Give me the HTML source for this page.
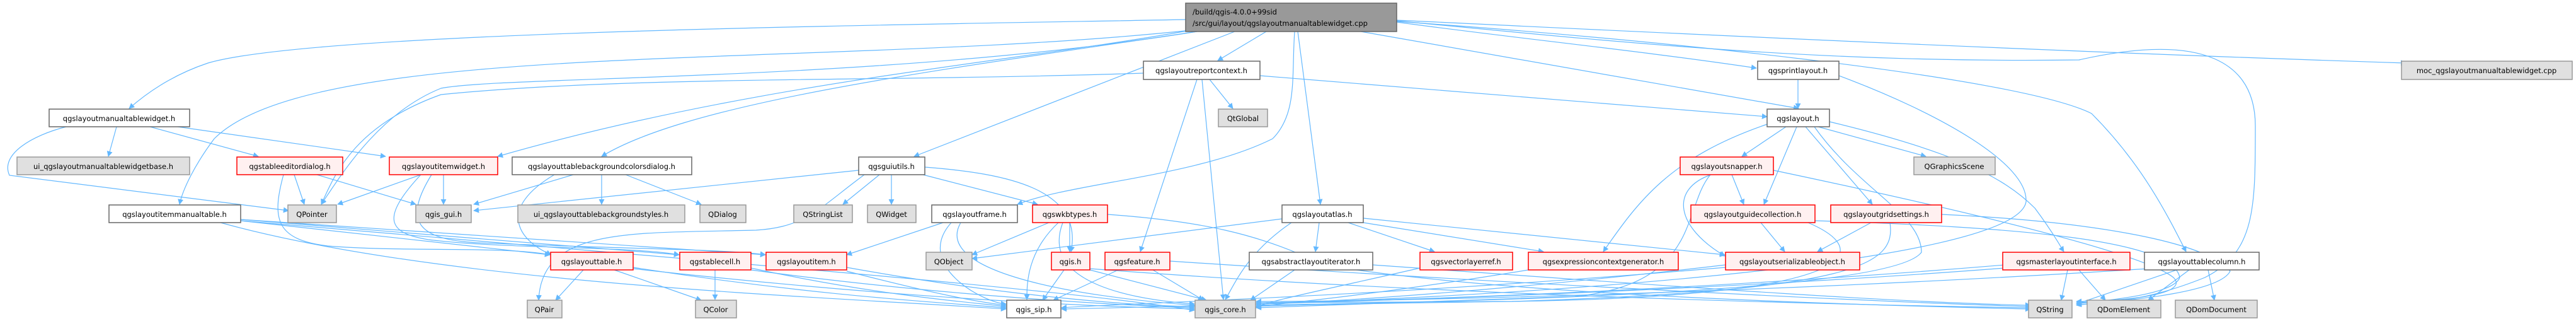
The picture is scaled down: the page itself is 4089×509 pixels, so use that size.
<!DOCTYPE html>
<html><head><meta charset="utf-8"><style>
html,body{margin:0;padding:0;background:#fff}
svg{display:block}
text{font-family:"DejaVu Sans","Liberation Sans",sans-serif;font-size:11.5px;fill:#000}
.w{fill:#fff;stroke:#666;stroke-width:1.5}
.g{fill:#e0e0e0;stroke:#999;stroke-width:1.5}
.r{fill:#fff0f0;stroke:#f00;stroke-width:1.5}
.m{fill:#999;stroke:#666;stroke-width:1.5}
.e{fill:none;stroke:#63b8ff;stroke-width:1.2}
</style></head><body>
<svg width="4089" height="509" viewBox="0 0 4089 509" xmlns="http://www.w3.org/2000/svg">
<defs><marker id="a" viewBox="0 0 10 10" refX="9" refY="5" markerWidth="9" markerHeight="9" orient="auto" markerUnits="userSpaceOnUse"><path d="M0,0 L10,5 L0,10 z" fill="#63b8ff"/></marker></defs>
<g marker-end="url(#a)">
<path class="e" d="M1882,31 C1400,40 500,50 330,100 C270,120 230,150 205,172"/>
<path class="e" d="M1890,48 C1600,100 1200,130 790,248"/>
<path class="e" d="M1900,50 C1500,110 1100,160 955,248"/>
<path class="e" d="M1890,48 C1300,110 500,60 340,220 C310,260 290,300 285,324"/>
<path class="e" d="M1900,50 C1400,130 800,120 700,140 C600,180 540,280 510,324"/>
<path class="e" d="M1960,50 L1451,248"/>
<path class="e" d="M2055,50 C2050,120 2060,180 2020,220 C1900,280 1700,290 1615,324"/>
<path class="e" d="M2010,50 L1933,96"/>
<path class="e" d="M2060,50 L2096,324"/>
<path class="e" d="M2160,50 L2855,172"/>
<path class="e" d="M2217,35 C2400,60 2600,80 2788,108"/>
<path class="e" d="M2217,32 C2600,50 3200,80 3819,100"/>
<path class="e" d="M2217,34 C2600,60 3200,120 3320,180 C3400,260 3440,340 3470,399"/>
<path class="e" d="M2217,33 C2600,70 2900,100 3300,95 C3500,50 3580,100 3580,200 C3580,330 3580,400 3500,440 C3400,480 3350,478 3296,480"/>
<path class="e" d="M185,201 L172,248"/>
<path class="e" d="M238,201 L410,248"/>
<path class="e" d="M282,201 L612,248"/>
<path class="e" d="M105,201 C50,215 0,245 15,278 L458,334"/>
<path class="e" d="M467,277 L483,324"/>
<path class="e" d="M503,277 L660,324"/>
<path class="e" d="M450,277 C430,350 440,380 520,390 C640,400 800,390 873,404"/>
<path class="e" d="M668,277 L536,324"/>
<path class="e" d="M704,277 L704,324"/>
<path class="e" d="M668,277 C600,350 620,370 680,380 C800,395 1000,390 1078,404"/>
<path class="e" d="M685,277 C640,350 660,380 760,385 C1000,395 1150,395 1215,404"/>
<path class="e" d="M910,277 L752,324"/>
<path class="e" d="M955,277 L955,324"/>
<path class="e" d="M993,277 L1113,324"/>
<path class="e" d="M880,277 C790,330 820,380 875,404"/>
<path class="e" d="M1363,270 L752,334"/>
<path class="e" d="M1396,277 L1338,324"/>
<path class="e" d="M1415,277 L1415,324"/>
<path class="e" d="M1465,277 L1647,324"/>
<path class="e" d="M1468,265 C1600,275 1720,300 1700,399"/>
<path class="e" d="M1372,277 C1300,330 1280,360 1200,365 C1000,370 860,360 855,476"/>
<path class="e" d="M382,350 L873,404"/>
<path class="e" d="M382,348 L1078,404"/>
<path class="e" d="M382,348 L1215,404"/>
<path class="e" d="M350,353 C700,450 1300,470 1597,490"/>
<path class="e" d="M382,350 C1200,420 1700,460 1896,492"/>
<path class="e" d="M926,428 L882,476"/>
<path class="e" d="M975,428 L1113,476"/>
<path class="e" d="M1005,424 C1300,470 1500,480 1597,488"/>
<path class="e" d="M1005,426 C1400,470 1700,485 1896,490"/>
<path class="e" d="M1135,428 L1135,475"/>
<path class="e" d="M1192,425 C1400,470 1550,480 1597,486"/>
<path class="e" d="M1192,428 C1500,470 1800,485 1896,488"/>
<path class="e" d="M1344,424 C1600,470 1800,485 1896,486"/>
<path class="e" d="M1344,430 C1500,470 1560,480 1597,484"/>
<path class="e" d="M1497,353 L1344,404"/>
<path class="e" d="M1510,353 C1450,420 1560,480 1597,482"/>
<path class="e" d="M1525,353 C1480,430 1700,470 1896,484"/>
<path class="e" d="M1665,353 L1543,404"/>
<path class="e" d="M1698,353 L1698,399"/>
<path class="e" d="M1680,353 C1630,400 1630,450 1630,475"/>
<path class="e" d="M1687,353 C1650,450 1800,475 1896,482"/>
<path class="e" d="M1758,340 C1900,350 2000,370 2100,420 C2400,470 3000,485 3223,490"/>
<path class="e" d="M1689,428 L1655,476"/>
<path class="e" d="M1730,428 L1915,476"/>
<path class="e" d="M1730,426 C2300,470 3000,485 3223,488"/>
<path class="e" d="M1775,428 L1672,476"/>
<path class="e" d="M1830,428 L1910,476"/>
<path class="e" d="M1857,414 C2400,450 3000,480 3223,486"/>
<path class="e" d="M1920,126 L1957,172"/>
<path class="e" d="M1900,126 L1810,399"/>
<path class="e" d="M1908,126 L1942,475"/>
<path class="e" d="M2000,120 L2805,185"/>
<path class="e" d="M1815,116 C1400,130 1000,120 700,150 C560,200 530,280 510,324"/>
<path class="e" d="M2035,347 L1543,410"/>
<path class="e" d="M2050,353 C1980,400 1960,450 1945,475"/>
<path class="e" d="M2094,353 L2088,399"/>
<path class="e" d="M2140,353 L2277,399"/>
<path class="e" d="M2164,353 L2450,399"/>
<path class="e" d="M2164,346 L2738,404"/>
<path class="e" d="M2055,428 L1985,476"/>
<path class="e" d="M2179,420 C2600,450 3000,480 3223,484"/>
<path class="e" d="M2254,425 C2100,460 2000,480 1994,488"/>
<path class="e" d="M2426,428 C2200,465 2050,480 1994,486"/>
<path class="e" d="M2854,126 L2854,172"/>
<path class="e" d="M2919,120 C3080,180 3220,260 3216,320 C3200,420 2400,470 1994,482"/>
<path class="e" d="M2835,201 L2765,248"/>
<path class="e" d="M2852,201 L2800,324"/>
<path class="e" d="M2866,201 L2972,324"/>
<path class="e" d="M2886,201 L3057,248"/>
<path class="e" d="M2904,193 C3100,240 3180,280 3230,330 C3260,370 3270,390 3276,399"/>
<path class="e" d="M2805,197 C2650,250 2600,320 2545,399"/>
<path class="e" d="M2880,201 C2950,300 3050,340 3050,400 C3000,470 2200,480 1994,484"/>
<path class="e" d="M2749,277 L2768,324"/>
<path class="e" d="M2716,277 C2650,300 2660,360 2738,406"/>
<path class="e" d="M2815,270 C3100,330 3400,400 3450,440 C3480,470 3350,478 3296,478"/>
<path class="e" d="M2715,277 C2670,330 2700,450 2500,470 C2200,480 2050,485 1994,488"/>
<path class="e" d="M2795,353 L2833,399"/>
<path class="e" d="M2870,353 C2980,400 2950,470 2400,478 C2100,482 2000,485 1994,486"/>
<path class="e" d="M2881,350 C3200,360 3450,380 3460,440 C3450,470 3320,478 3296,482"/>
<path class="e" d="M2970,353 L2885,399"/>
<path class="e" d="M3000,353 C3010,420 2950,460 2400,478 L1994,480"/>
<path class="e" d="M3082,340 C3300,350 3500,380 3540,430 C3520,470 3320,480 3296,484"/>
<path class="e" d="M2739,420 C2400,460 2100,480 1994,482"/>
<path class="e" d="M2739,424 C2200,470 1800,480 1685,488"/>
<path class="e" d="M3282,428 L3272,476"/>
<path class="e" d="M3300,428 L3342,476"/>
<path class="e" d="M3183,420 C2700,460 2200,478 1994,480"/>
<path class="e" d="M3183,425 C2600,470 1900,485 1685,490"/>
<path class="e" d="M3455,428 L3296,482"/>
<path class="e" d="M3475,428 L3410,476"/>
<path class="e" d="M3505,428 L3515,476"/>
<path class="e" d="M3410,426 C2800,465 2200,478 1994,478"/>
</g>

<rect class="m" x="1882" y="5" width="335" height="45"/>
<text x="1893" y="23">/build/qgis-4.0.0+99sid</text>
<text x="1893" y="41">/src/gui/layout/qgslayoutmanualtablewidget.cpp</text>

<g text-anchor="middle">
<rect class="w" x="1815" y="97" width="185" height="29"/><text x="1907" y="116">qgslayoutreportcontext.h</text>
<rect class="w" x="2790" y="97" width="129" height="29"/><text x="2854" y="116">qgsprintlayout.h</text>
<rect class="g" x="3812" y="97" width="271" height="29"/><text x="3947" y="116">moc_qgslayoutmanualtablewidget.cpp</text>

<rect class="w" x="78" y="173" width="223" height="28"/><text x="189" y="192">qgslayoutmanualtablewidget.h</text>
<rect class="g" x="1934" y="173" width="78" height="28"/><text x="1973" y="192">QtGlobal</text>
<rect class="w" x="2805" y="173" width="99" height="28"/><text x="2854" y="192">qgslayout.h</text>

<rect class="g" x="27" y="249" width="274" height="28"/><text x="164" y="268">ui_qgslayoutmanualtablewidgetbase.h</text>
<rect class="r" x="376" y="249" width="168" height="28"/><text x="460" y="268">qgstableeditordialog.h</text>
<rect class="r" x="618" y="249" width="172" height="28"/><text x="704" y="268">qgslayoutitemwidget.h</text>
<rect class="w" x="813" y="249" width="285" height="28"/><text x="955" y="268">qgslayouttablebackgroundcolorsdialog.h</text>
<rect class="w" x="1363" y="249" width="105" height="28"/><text x="1415" y="268">qgsguiutils.h</text>
<rect class="r" x="2667" y="249" width="148" height="28"/><text x="2741" y="268">qgslayoutsnapper.h</text>
<rect class="g" x="3038" y="249" width="129" height="28"/><text x="3102" y="268">QGraphicsScene</text>

<rect class="w" x="173" y="325" width="209" height="28"/><text x="277" y="344">qgslayoutitemmanualtable.h</text>
<rect class="g" x="457" y="325" width="77" height="28"/><text x="495" y="344">QPointer</text>
<rect class="g" x="660" y="325" width="88" height="28"/><text x="704" y="344">qgis_gui.h</text>
<rect class="g" x="822" y="325" width="265" height="28"/><text x="954" y="344">ui_qgslayouttablebackgroundstyles.h</text>
<rect class="g" x="1111" y="325" width="73" height="28"/><text x="1147" y="344">QDialog</text>
<rect class="g" x="1260" y="325" width="93" height="28"/><text x="1306" y="344">QStringList</text>
<rect class="g" x="1377" y="325" width="77" height="28"/><text x="1415" y="344">QWidget</text>
<rect class="w" x="1479" y="325" width="136" height="28"/><text x="1547" y="344">qgslayoutframe.h</text>
<rect class="r" x="1639" y="325" width="119" height="28"/><text x="1698" y="344">qgswkbtypes.h</text>
<rect class="w" x="2035" y="325" width="129" height="28"/><text x="2099" y="344">qgslayoutatlas.h</text>
<rect class="r" x="2684" y="325" width="197" height="28"/><text x="2782" y="344">qgslayoutguidecollection.h</text>
<rect class="r" x="2906" y="325" width="176" height="28"/><text x="2994" y="344">qgslayoutgridsettings.h</text>

<rect class="r" x="874" y="400" width="131" height="28"/><text x="939" y="419">qgslayouttable.h</text>
<rect class="r" x="1079" y="400" width="113" height="28"/><text x="1135" y="419">qgstablecell.h</text>
<rect class="r" x="1216" y="400" width="128" height="28"/><text x="1280" y="419">qgslayoutitem.h</text>
<rect class="g" x="1470" y="400" width="73" height="28"/><text x="1506" y="419">QObject</text>
<rect class="r" x="1669" y="400" width="61" height="28"/><text x="1699" y="419">qgis.h</text>
<rect class="r" x="1754" y="400" width="103" height="28"/><text x="1805" y="419">qgsfeature.h</text>
<rect class="w" x="1983" y="400" width="196" height="28"/><text x="2081" y="419">qgsabstractlayoutiterator.h</text>
<rect class="r" x="2254" y="400" width="147" height="28"/><text x="2327" y="419">qgsvectorlayerref.h</text>
<rect class="r" x="2426" y="400" width="238" height="28"/><text x="2545" y="419">qgsexpressioncontextgenerator.h</text>
<rect class="r" x="2739" y="400" width="213" height="28"/><text x="2845" y="419">qgslayoutserializableobject.h</text>
<rect class="r" x="3179" y="400" width="202" height="28"/><text x="3280" y="419">qgsmasterlayoutinterface.h</text>
<rect class="w" x="3404" y="400" width="182" height="28"/><text x="3495" y="419">qgslayouttablecolumn.h</text>

<rect class="g" x="837" y="476" width="55" height="28"/><text x="864" y="495">QPair</text>
<rect class="g" x="1104" y="476" width="65" height="28"/><text x="1136" y="495">QColor</text>
<rect class="w" x="1598" y="476" width="86" height="28"/><text x="1641" y="495">qgis_sip.h</text>
<rect class="g" x="1897" y="476" width="96" height="28"/><text x="1945" y="495">qgis_core.h</text>
<rect class="g" x="3220" y="476" width="69" height="28"/><text x="3254" y="495">QString</text>
<rect class="g" x="3313" y="476" width="117" height="28"/><text x="3371" y="495">QDomElement</text>
<rect class="g" x="3453" y="476" width="130" height="28"/><text x="3518" y="495">QDomDocument</text>
</g>
</svg>
</body></html>
